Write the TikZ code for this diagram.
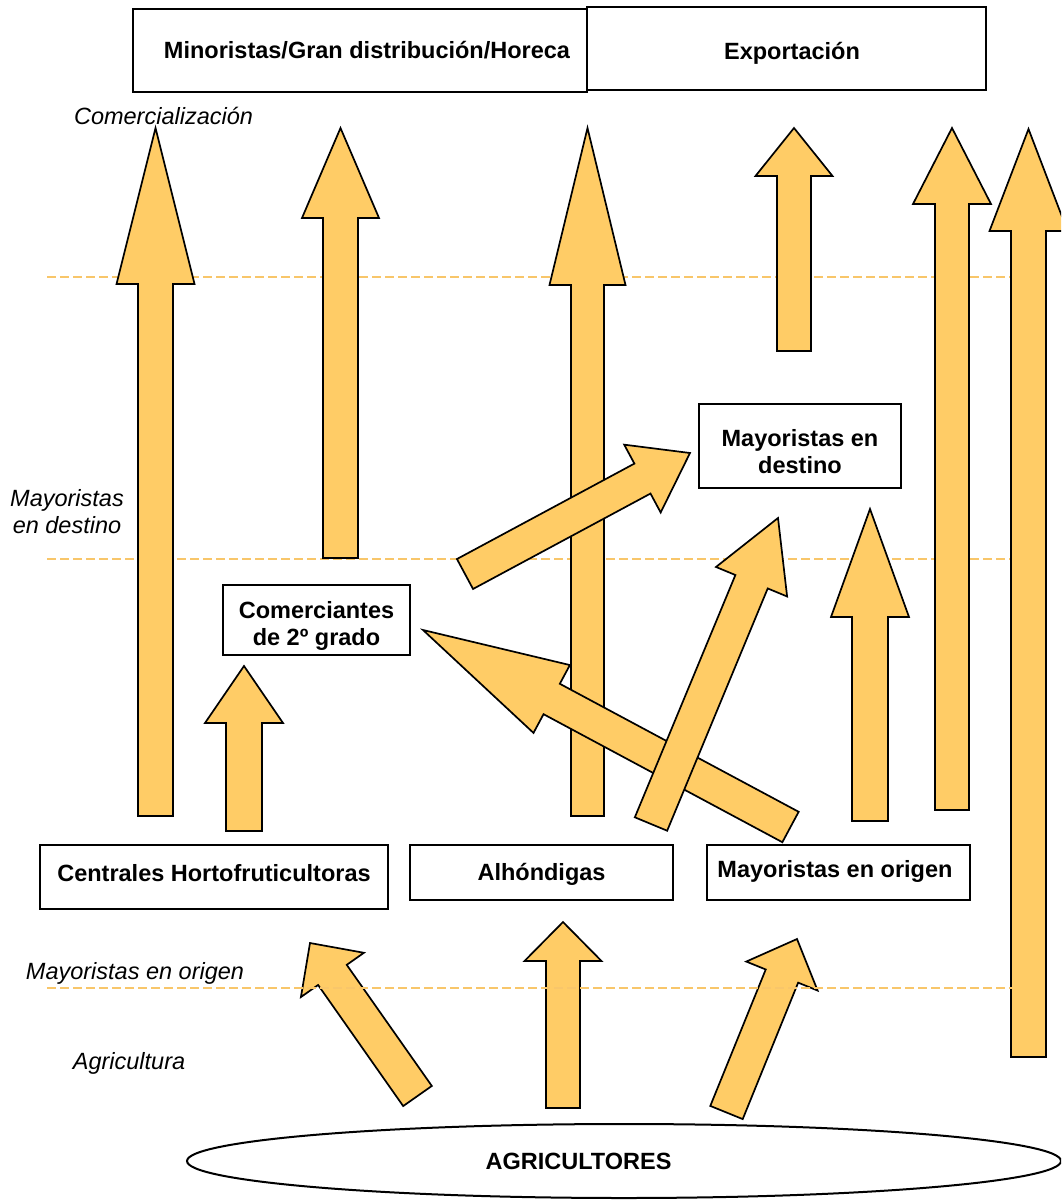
\documentclass[tikz,border=0pt]{standalone}
\usepackage{fontspec}
\setmainfont{Liberation Sans}
\usetikzlibrary{calc,shapes.geometric}
\definecolor{naranja}{HTML}{FFCC66}
\definecolor{guiacolor}{HTML}{F8C66A}
\newcommand{\tamano}{\fontsize{23.5}{27}\selectfont}
% tail, tip, shaft half width, head half width, head length
\newcommand{\flecha}[5]{%
\coordinate (fb) at ($(#2)!#5!(#1)$);
\filldraw[bloque] ($(#1)!#3!90:(#2)$) -- ($(fb)!#3!90:(#2)$) -- ($(fb)!#4!90:(#2)$) -- (#2)
 -- ($(fb)!#4!-90:(#2)$) -- ($(fb)!#3!-90:(#2)$) -- ($(#1)!#3!-90:(#2)$) -- cycle;
}
\tikzset{
bloque/.style={fill=naranja,draw=black,line width=1.7pt,line join=miter},
caja/.style={draw=black,line width=1.6pt,fill=white,font=\tamano\bfseries,align=center,inner sep=0pt},
linea/.style={text height=21.8pt,text depth=5pt},
nivel/.style={font=\tamano\itshape,align=center},
guia/.style={draw=guiacolor,line width=2pt,dash pattern=on 9pt off 4pt}
}
\begin{document}
\begin{tikzpicture}[x=1pt,y=-1pt]
\clip (0,0) rectangle (1061,1202);
\fill[white] (0,0) rectangle (1061,1202);
\foreach \y in {277,559}
{
\draw[guia] (47,\y) -- (1010,\y);
}
\node[caja,linea,minimum width=454pt,minimum height=83pt] (minor) at (360,50.5) {\hspace{14pt}Minoristas/Gran distribución/Horeca};
\node[caja,linea,text height=26.8pt,minimum width=399pt,minimum height=83pt] (export) at (786.5,48.5) {\hspace{11pt}Exportación};
\node[caja,minimum width=187pt,minimum height=70pt] (comer) at (316.5,620) {\rule{0pt}{29pt}Comerciantes\\de 2º grado};
\node[caja,minimum width=202pt,minimum height=84pt] (mdest) at (800,446) {\rule{0pt}{29pt}Mayoristas en\\destino};
\node[caja,linea,text depth=13pt,minimum width=348pt,minimum height=64pt] (cent) at (214,877) {Centrales Hortofruticultoras};
\node[caja,linea,minimum width=263pt,minimum height=55pt] (alh) at (541.5,872.5) {Alhóndigas};
\node[caja,linea,text depth=12pt,minimum width=263pt,minimum height=55pt] (morig) at (838.5,872.5) {Mayoristas en origen\kern7pt};
\node[draw,ellipse,linea,line width=2pt,minimum width=874pt,minimum height=74pt,font=\tamano\bfseries] (agri) at (624,1161) {AGRICULTORES\kern91pt};
\node[nivel] (lcom) at (163.5,116) {Comercialización};
\node[nivel] (ldest) at (67,512) {Mayoristas\\en destino};
\node[nivel] (lorig) at (135,973) {Mayoristas en origen};
\node[nivel] (lagri) at (129,1063) {Agricultura};
% flechas verticales
\foreach \n/\x/\ya/\yb/\w/\h/\l in {
v1/155.5/816/128/17.5/39/156,
v2/340.5/558/128/17.5/38.5/90,
v3/587.5/816/128/16.5/38/157,
v4/794/351/128/17/38.5/48,
v5/952/810/128/17/39/76,
v6/1028.5/1057/129/17.5/39/102,
v7/244/831/666/18/39/57,
v8/870/821/509/18/39/108,
v9/563/1108/922/17/38.5/39}
{
\coordinate (cola\n) at (\x,\ya);
\coordinate (punta\n) at (\x,\yb);
\flecha{cola\n}{punta\n}{\w pt}{\h pt}{\l pt}
}
% flechas oblicuas
\coordinate (colad1) at (417.5,1096);
\coordinate (puntad1) at (310,943);
\coordinate (colad2) at (726.5,1112.5);
\coordinate (puntad2) at (797,939);
\coordinate (colad4) at (790.5,827);
\coordinate (puntad4) at (423,630);
\coordinate (colad3) at (651,824);
\coordinate (puntad3) at (778,518);
\coordinate (colad5) at (465,574);
\coordinate (puntad5) at (690,453);
\flecha{colad1}{puntad1}{17.5pt}{38.5pt}{39pt}
\flecha{colad2}{puntad2}{17.5pt}{38.5pt}{40pt}
\flecha{colad4}{puntad4}{17.25pt}{38.5pt}{146pt}
\flecha{colad3}{puntad3}{17.5pt}{38.5pt}{69pt}
\flecha{colad5}{puntad5}{17pt}{38.5pt}{54pt}
\draw[guia] (47,988) -- (1012,988);
\end{tikzpicture}
\end{document}
